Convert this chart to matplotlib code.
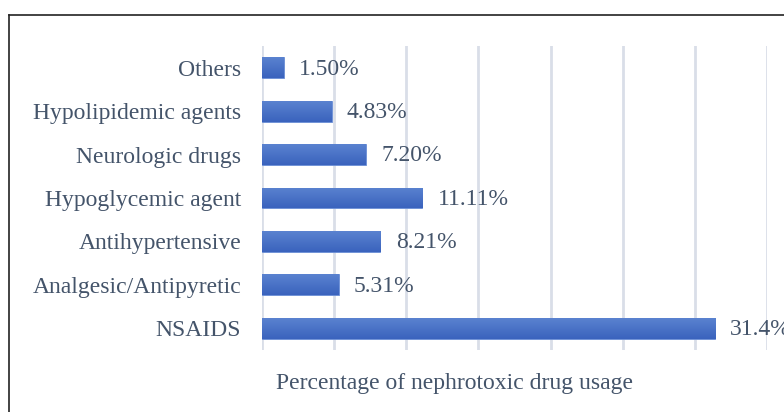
import matplotlib.pyplot as plt
import numpy as np
from matplotlib.colors import LinearSegmentedColormap
from matplotlib.lines import Line2D

plt.rcParams['font.family'] = ['Liberation Serif', 'DejaVu Serif']

categories = ['NSAIDS', 'Analgesic/Antipyretic', 'Antihypertensive', 'Hypoglycemic agent',
              'Neurologic drugs', 'Hypolipidemic agents', 'Others']
values = [31.4, 5.31, 8.21, 11.11, 7.20, 4.83, 1.50]
value_labels = ['31.4%', '5.31%', '8.21%', '11.11%', '7.20%', '4.83%', '1.50%']

text_color = '#44546A'
grad = LinearSegmentedColormap.from_list('bar', ['#3A63BD', '#5A82D0'])

fig = plt.figure(figsize=(7.84, 4.12), dpi=100)
ax = fig.add_axes([262/784, 1 - 350/412, (767 - 262)/784, (350 - 46)/412])

y = np.arange(len(categories))
bars = ax.barh(y, values, height=0.48, color='#4472C4', edgecolor='#6B8ED6', linewidth=0.6, zorder=2)

# vertical gradient inside each bar
g = np.linspace(0, 1, 64).reshape(-1, 1)
for b in bars:
    x0, y0 = b.get_x(), b.get_y()
    im = ax.imshow(g, cmap=grad, aspect='auto', origin='lower',
                   extent=[x0, x0 + b.get_width(), y0, y0 + b.get_height()], zorder=2.5)
    im.set_clip_path(b)

for yi, v, lab in zip(y, values, value_labels):
    ax.annotate(lab, (v, yi), xytext=(11, -1), textcoords='offset points',
                va='center', ha='left', fontsize=17, color=text_color, annotation_clip=False)

ax.set_xlim(0, 35)
ax.set_ylim(-0.5, 6.5)
ax.set_xticks(np.arange(0, 36, 5))
ax.set_xticklabels([])
ax.set_yticks(y)
ax.set_yticklabels(categories, fontsize=17, color=text_color)
ax.tick_params(axis='both', length=0)
ax.tick_params(axis='y', pad=15)
ax.grid(axis='x', color='#D9DEE8', linewidth=2, zorder=0)
ax.set_axisbelow(True)
for s in ax.spines.values():
    s.set_visible(False)

fig.text(454/784, 1 - 383/412, 'Percentage of nephrotoxic drug usage',
         ha='center', va='center', fontsize=17, color=text_color)

# chart frame, only top and left edges fall inside the canvas
fig.add_artist(Line2D([9/784, 1.0], [1 - 15/412, 1 - 15/412], color='#222222', linewidth=1.2))
fig.add_artist(Line2D([9/784, 9/784], [0.0, 1 - 15/412], color='#222222', linewidth=1.2))

fig.savefig('out.png', dpi=100)
